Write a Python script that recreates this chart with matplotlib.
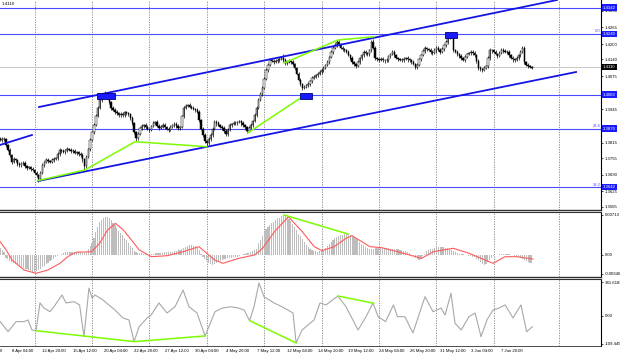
import numpy as np
import matplotlib
matplotlib.use("Agg")
import matplotlib.pyplot as plt
from matplotlib.patches import Rectangle
from matplotlib.transforms import blended_transform_factory

# H4 closes, in pips above 1.3600
closes = [
    226, 231, 228, 205, 186, 167, 140, 150, 146, 132,
    128, 134, 137, 125, 116, 120, 112, 109, 98, 89,
    72, 96, 128, 140, 148, 143, 140, 147, 152, 155,
    170, 187, 183, 179, 185, 190, 187, 181, 184, 175,
    178, 170, 167, 150, 124, 160, 190, 227, 255, 285,
    320, 352, 380, 401, 395, 408, 393, 372, 351, 344,
    335, 330, 323, 328, 322, 333, 331, 326, 311, 290,
    257, 232, 250, 272, 280, 284, 276, 268, 265, 280,
    290, 296, 282, 272, 278, 284, 276, 270, 265, 278,
    283, 288, 280, 272, 276, 318, 351, 360, 362, 356,
    351, 346, 343, 336, 304, 270, 245, 222, 212, 228,
    245, 270, 296, 290, 284, 278, 272, 262, 248, 265,
    284, 288, 292, 290, 296, 298, 290, 284, 276, 262,
    272, 284, 300, 323, 352, 382, 405, 429, 465, 499,
    518, 538, 535, 530, 534, 538, 541, 546, 538, 526,
    530, 534, 530, 522, 507, 485, 460, 445, 429, 432,
    440, 444, 456, 468, 472, 479, 485, 491, 500, 507,
    518, 530, 550, 569, 585, 596, 608, 600, 584, 580,
    577, 570, 557, 545, 530, 522, 514, 530, 546, 556,
    569, 565, 561, 575, 608, 585, 546, 540, 538, 542,
    538, 536, 538, 552, 562, 569, 556, 546, 540, 538,
    538, 542, 546, 540, 536, 530, 522, 510, 518, 540,
    557, 572, 585, 580, 577, 570, 565, 575, 585, 578,
    569, 580, 596, 610, 624, 628, 631, 575, 569, 560,
    553, 546, 538, 550, 561, 566, 569, 565, 557, 534,
    507, 503, 499, 506, 514, 545, 577, 575, 569, 562,
    553, 566, 577, 574, 570, 569, 557, 546, 540, 538,
    546, 557, 570, 585, 530, 520, 514, 510, 507,
]
wick_up = [
    6, 5, 8, 4, 6, 7, 5, 8, 6, 5, 7, 5, 6, 8, 4, 6, 5, 7, 5, 6,
    5, 8, 6, 5, 7, 6, 5, 8, 6, 5, 7, 6, 5, 8, 6, 7, 5, 6, 8, 5,
    6, 5, 7, 6, 5, 8, 6, 7, 5, 8, 7, 6, 8, 5, 7, 8, 6, 5, 7, 6,
    5, 7, 6, 8, 5, 6, 7, 5, 6, 8, 6, 5, 7, 6, 8, 5, 6, 7, 5, 6,
    8, 5, 6, 7, 5, 8, 6, 5, 7, 6, 5, 7, 6, 8, 5, 6, 9, 7, 6, 8,
    6, 7, 5, 6, 8, 5, 6, 7, 5, 8, 6, 5, 7, 6, 8, 5, 6, 7, 5, 6,
    7, 5, 8, 6, 5, 7, 6, 8, 5, 6, 7, 6, 5, 8, 6, 7, 9, 6, 8, 7,
    8, 6, 7, 5, 8, 6, 7, 9, 15, 8, 6, 7, 5, 8, 6, 5, 7, 6, 5, 8,
    6, 7, 5, 6, 8, 5, 7, 6, 5, 8, 6, 7, 5, 8, 6, 7, 8, 6, 5, 7,
    6, 5, 8, 6, 7, 5, 6, 8, 5, 7, 6, 8, 5, 7, 6, 10, 6, 5, 7, 6,
    8, 5, 6, 7, 5, 8, 6, 7, 5, 6, 7, 6, 5, 8, 6, 5, 7, 6, 8, 5,
    6, 7, 8, 5, 6, 7, 5, 8, 6, 7, 5, 8, 6, 7, 6, 8, 10, 6, 5, 7,
    6, 8, 5, 7, 6, 5, 8, 6, 7, 5, 6, 7, 5, 8, 6, 7, 8, 5, 6, 7,
    5, 8, 6, 7, 5, 6, 8, 5, 7, 6, 7, 6, 8, 9, 6, 5, 7, 5, 6,
]
wick_dn = [
    5, 7, 6, 8, 5, 6, 8, 5, 7, 6, 6, 8, 5, 7, 6, 5, 8, 6, 7, 8,
    12, 6, 5, 7, 6, 8, 5, 6, 7, 5, 6, 5, 7, 6, 8, 5, 6, 7, 5, 6,
    7, 6, 8, 10, 15, 6, 5, 7, 6, 5, 6, 5, 7, 6, 5, 6, 8, 5, 7, 6,
    7, 5, 6, 8, 5, 7, 6, 5, 8, 6, 8, 10, 6, 5, 7, 6, 8, 5, 7, 6,
    5, 7, 6, 8, 5, 6, 7, 5, 8, 6, 7, 5, 6, 8, 6, 5, 7, 6, 5, 7,
    6, 5, 7, 6, 8, 6, 7, 8, 10, 6, 5, 7, 6, 8, 5, 6, 7, 8, 6, 5,
    6, 8, 5, 7, 6, 5, 8, 6, 7, 8, 6, 5, 7, 6, 8, 5, 6, 7, 5, 6,
    7, 5, 6, 8, 5, 7, 6, 5, 6, 8, 6, 5, 7, 6, 8, 7, 6, 8, 10, 6,
    5, 7, 6, 8, 5, 6, 7, 5, 6, 8, 6, 5, 7, 6, 8, 5, 6, 7, 5, 6,
    7, 6, 5, 8, 6, 7, 8, 5, 6, 7, 5, 7, 6, 8, 5, 6, 8, 6, 7, 5,
    6, 8, 5, 7, 6, 5, 8, 6, 7, 5, 6, 7, 5, 8, 6, 7, 5, 9, 6, 5,
    7, 5, 6, 8, 5, 7, 6, 5, 8, 6, 6, 5, 7, 6, 8, 5, 6, 7, 5, 8,
    6, 7, 5, 8, 6, 5, 7, 6, 8, 7, 8, 10, 7, 6, 5, 7, 6, 8, 5, 6,
    7, 5, 6, 8, 5, 7, 6, 5, 8, 6, 5, 7, 6, 5, 8, 6, 7, 5, 6,
]

# MACD main (histogram) per bar, units of 1e-5
macd_hist = [
    120, 85, 50, -60, -85, -105, -130, -150, -165, -185,
    -200, -215, -235, -250, -265, -280, -295, -310, -305, -290,
    -270, -250, -225, -200, -175, -150, -120, -95, -70, -45,
    -25, -5, 15, 30, 45, 50, 50, 45, 50, 55,
    50, 45, 40, 35, 30, 55, 100, 150, 210, 300,
    400, 500, 590, 630, 660, 670, 675, 650, 620, 575,
    530, 480, 430, 390, 345, 305, 265, 215, 165, 120,
    60, 45, 35, 30, 25, 20, 15, 10, 10, 15,
    20, 25, 25, 30, 30, 35, 40, 45, 45, 50,
    55, 60, 70, 80, 85, 100, 125, 140, 160, 175,
    170, 165, 155, 120, 85, 20, -40, -80, -120, -150,
    -170, -185, -170, -150, -130, -110, -90, -75, -70, -65,
    -60, -60, -50, -45, -35, -25, -10, 5, 20, 30,
    30, 50, 75, 90, 100, 210, 270, 335, 400, 460,
    500, 540, 570, 590, 620, 650, 660, 690, 705, 715,
    675, 640, 600, 550, 500, 440, 380, 335, 280, 230,
    175, 145, 110, 85, 70, 60, 50, 60, 70, 85,
    120, 150, 190, 230, 265, 300, 320, 340, 355, 360,
    365, 370, 370, 355, 340, 320, 290, 260, 230, 200,
    170, 140, 125, 110, 100, 105, 115, 120, 120, 125,
    120, 120, 120, 115, 110, 105, 100, 95, 95, 90,
    85, 75, 60, 45, 30, 0, -30, -60, -80, -95,
    -70, -25, 20, 60, 85, 100, 110, 120, 125, 130,
    135, 140, 135, 125, 120, 100, 85, 60, 45, 30,
    20, 10, 5, -5, -10, -20, -25, -35, -40, -70,
    -100, -130, -160, -185, -160, -130, -90, -60, -25, -10,
    0, 10, 10, 15, 10, 10, 5, 0, -5, -15,
    -30, -45, -60, -75, -95, -110, -130, -140, -150,
]
signal_bar = [0, 3.1, 6.2, 12.5, 18.7, 24.9, 31.2, 35.3, 39.5, 47.8, 52, 56.1, 60.3,
              64.4, 68.6, 72.7, 79, 87.3, 95.6, 103.9, 108, 112.2, 116.4, 124.7, 133,
              137.2, 143.4, 150.7, 157.9, 164.2, 168.3, 174.6, 180.8, 183.9, 189.1,
              193.3, 199.5, 207.8, 214, 220.3, 226.5, 236.9, 245.2, 253.5, 257.7,
              263.9, 270.2, 278.5]
signal_val = [233, 84, -95, -275, -334, -275, -155, -36, 43, 54, 205, 443, 563,
              443, 264, 84, -36, -18, 54, 144, 25, -95, -155, -65, -5,
              115, 413, 682, 413, 144, 72, 144, 294, 341, 233,
              144, 126, 54, -5, -65, 54, 115, 25, -95, -155,
              -36, -36, -77]

osc_bar = [0, 4.1, 8.3, 12.4, 14.5, 16.6, 18.7, 20.8, 22.9, 26, 28.1, 32.3, 34.4,
           38.6, 41.5, 43.8, 46.4, 48, 49.6, 53.7, 60, 64.2, 67.3, 70, 72.6, 76.8,
           78.9, 83, 87.2, 91.4, 95.6, 98.7, 102.9, 107.1, 112.3, 116.2, 120.4,
           124.6, 127.5, 130.4, 132.7, 135.3, 137.9, 143.2, 147.3, 153.1, 154.7,
           157.8, 164.1, 167.2, 170.3, 176.6, 180.8, 187.1, 191.3, 194.9, 197.6,
           201.5, 205.6, 207.7, 211.6, 215.8, 222.1, 226.3, 230.5, 232.6, 235.7,
           237.8, 241, 245.1, 248.3, 251.4, 254.5, 257.7, 260.8, 264, 268.1,
           272.3, 275.2, 278.3]
osc_val = [-57, -158, -57, -57, -40, -141, -148, 131, 80, 43, 93, 211, 131,
           144, 111, -208, 281, 181, 211, 161, 60, -20, -40, -258, -108, -20,
           10, 131, 30, 93, 261, 93, 30, -201, 43, 80, 93,
           80, 60, -47, 93, 332, 194, 131, 93, 30, -271,
           -141, -40, 131, 111, 201, 93, -141, -7, 131, -7,
           -57, 111, -7, -7, -171, 194, 43, 80, 10, 228,
           -73, -141, -7, 30, -208, -40, 60, 80, 111, -20,
           111, -158, -108]

date_labels = ["5 Apr 12:00", "8 Apr 04:00", "12 Apr 20:00", "15 Apr 12:00",
               "20 Apr 04:00", "22 Apr 20:00", "27 Apr 12:00", "30 Apr 04:00",
               "4 May 20:00", "7 May 12:00", "12 May 04:00", "14 May 20:00",
               "19 May 12:00", "24 May 04:00", "26 May 20:00", "31 May 12:00",
               "3 Jun 04:00", "7 Jun 20:00"]
date_bars = list(range(-10, 263, 16))
grid_bars = [18, 48, 78, 108, 138, 168, 198, 228, 258, 292]

level_prices = [1.4342, 1.4240, 1.4003, 1.3870, 1.3642]
fibo_levels = {1.4240: "0.0", 1.3870: "23.6", 1.3642: "38.2"}
last_price = 1.4110
price_ticks = [1.4330, 1.4265, 1.4200, 1.4140, 1.4075, 1.3945, 1.3815,
               1.3755, 1.3690, 1.3625, 1.3565]

# trend objects: (bar, price) pairs
channel_up = [(20.3, 1.39544), (291.1, 1.43721)]
channel_dn = [(19.8, 1.36655), (301.1, 1.40910)]
channel_old = [(-0.2, 1.38060), (16.6, 1.38451)]
green_price = [
    [(19.6, 1.36667), (44.2, 1.37084), (70.5, 1.38189), (108, 1.37994)],
    [(129.6, 1.38540), (159.4, 1.40012)],
    [(148.4, 1.41261), (176.6, 1.42159), (195.4, 1.42288)],
]
green_macd = [(148.4, 713), (181.8, 372)]
green_osc = [
    [(18.7, -148), (70, -258), (107.1, -201)],
    [(130.4, -47), (154.7, -271)],
    [(176.6, 201), (195.2, 128)],
]
marker_boxes = [(50.6, 60.0, 1.3985, 1.4010), (156.7, 163.0, 1.3985, 1.4010),
                (232.6, 238.9, 1.42226, 1.42460)]

W, H = 620, 357
LAB = 3.1
plt.rcParams['font.family'] = ['Liberation Sans', 'DejaVu Sans']
fig = plt.figure(figsize=(W / 100, H / 100), dpi=100, facecolor='white')


def add_panel(y0, y1):
    return fig.add_axes([0, 1 - y1 / H, 601 / W, (y1 - y0) / H])


ax = add_panel(0, 210)
ax2 = add_panel(212, 277)
ax3 = add_panel(279, 346)

xlim = (-0.118, 314.13)
for a in (ax, ax2, ax3):
    a.set_xlim(*xlim)
    a.set_xticks([])
    a.yaxis.tick_right()
    a.tick_params(axis='y', length=1.5, width=0.5, pad=1.0, labelsize=LAB, colors='black')
    a.spines['left'].set_visible(False)
    a.spines['top'].set_visible(False)
    a.spines['bottom'].set_color('#303030')
    a.spines['bottom'].set_linewidth(1.0)
    a.spines['right'].set_color('black')
    a.spines['right'].set_linewidth(0.8)
    for g in grid_bars:
        a.axvline(g, color='#808080', lw=0.6, ls=(0, (1.5, 1.5)), zorder=0)
ax2.spines['top'].set_visible(True)
ax2.spines['top'].set_color('#303030')
ax3.spines['top'].set_visible(True)
ax3.spines['top'].set_color('#303030')
ax3.spines['bottom'].set_linewidth(0.6)

# ---- main price panel
ax.set_ylim(1.35523, 1.43721)
c = np.array(closes) / 10000 + 1.36
o = np.concatenate([[c[0] + 0.0004], c[:-1]])
hi = np.maximum(o, c) + np.array(wick_up) / 10000
lo = np.minimum(o, c) - np.array(wick_dn) / 10000
bars = np.arange(len(c))
ax.vlines(bars, lo, hi, color='black', lw=0.5, zorder=3)
up = c >= o
ax.bar(bars[up], (c - o)[up], bottom=o[up], width=0.7, color='white',
       edgecolor='black', lw=0.35, zorder=4)
ax.bar(bars[~up], (c - o)[~up], bottom=o[~up], width=0.7, color='black',
       edgecolor='black', lw=0.35, zorder=4)

for p in level_prices:
    ax.axhline(p, color='#4b4bff', lw=0.8, zorder=1)
ax.axhline(last_price, color='#c0c0c0', lw=0.6, zorder=1)

for seg in (channel_up, channel_dn, channel_old):
    xs, ys = zip(*seg)
    ax.plot(xs, ys, color='#1414e6', lw=1.3, zorder=5)
for seg in green_price:
    xs, ys = zip(*seg)
    ax.plot(xs, ys, color='#7cfc00', lw=1.1, zorder=5)
for x0, x1, y0, y1 in marker_boxes:
    ax.add_patch(Rectangle((x0, y0), x1 - x0, y1 - y0, facecolor='#1a1aff',
                           edgecolor='#00007a', lw=0.6, zorder=6))

ax.set_yticks(price_ticks)
ax.set_yticklabels([f"{p:.4f}" for p in price_ticks])
tr = blended_transform_factory(ax.transAxes, ax.transData)
for p in level_prices:
    ax.text(1.003, p, f"{p:.4f}", transform=tr, ha='left', va='center', fontsize=LAB,
            color='white', clip_on=False, zorder=10,
            bbox=dict(boxstyle='square,pad=0.3', fc='#1a1aff', ec='#1a1aff', lw=0))
ax.text(1.003, last_price, f"{last_price:.4f}", transform=tr, ha='left', va='center',
        fontsize=LAB, color='white', clip_on=False, zorder=10,
        bbox=dict(boxstyle='square,pad=0.3', fc='black', ec='black', lw=0))
for p, lab in fibo_levels.items():
    ax.text(0.999, p + 0.0002, lab, transform=tr, ha='right', va='bottom',
            fontsize=3.0, color='#4b4bff')
ax.text(0.003, 0.982, "1.4110", transform=ax.transAxes, ha='left', va='center',
        fontsize=3.2, color='black')

# ---- MACD panel
ax2.set_ylim(-0.00400, 0.00766)
ax2.bar(bars, np.array(macd_hist) * 1e-5, width=0.6, color='#bdbdbd', zorder=2)
ax2.plot(signal_bar, np.array(signal_val) * 1e-5, color='#ff5a5a', lw=0.8, zorder=3)
xs, ys = zip(*green_macd)
ax2.plot(xs, np.array(ys) * 1e-5, color='#7cfc00', lw=1.1, zorder=4)
ax2.set_yticks([0.00713, 0.0, -0.00346])
ax2.set_yticklabels(["0.00713", "0.00", "-0.00346"])

# ---- oscillator panel
ax3.set_ylim(-302, 372)
ax3.plot(osc_bar, osc_val, color='#a8a8a8', lw=0.8, zorder=2)
for seg in green_osc:
    xs, ys = zip(*seg)
    ax3.plot(xs, ys, color='#7cfc00', lw=1.1, zorder=3)
ax3.set_yticks([341.6, 0, -281])
ax3.set_yticklabels(["341.6182", "0.00", "-109.445"])

trd = blended_transform_factory(ax3.transData, ax3.transAxes)
for b, lab in zip(date_bars, date_labels):
    ax3.text(b, -0.075, lab, transform=trd, ha='left', va='center', fontsize=3.1,
             clip_on=False)

fig.savefig("out.png", dpi=100, facecolor='white')
